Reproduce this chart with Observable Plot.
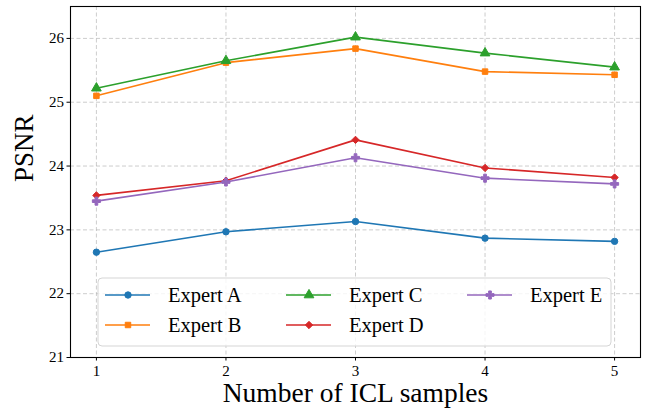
<!DOCTYPE html>
<html><head><meta charset="utf-8">
<script src="https://cdn.jsdelivr.net/npm/d3@7"></script>
<script src="https://cdn.jsdelivr.net/npm/@observablehq/plot@0.6"></script>
<style>body{margin:0;background:#fff}#chart{width:646px;height:418px}</style>
</head><body><div id="chart"></div>
<script>
const samples = [1, 2, 3, 4, 5];
const seriesNames = ["Expert A", "Expert B", "Expert C", "Expert D", "Expert E"];
const expertA = [22.65, 22.97, 23.13, 22.87, 22.82];
const expertB = [25.10, 25.62, 25.84, 25.48, 25.43];
const expertC = [25.22, 25.65, 26.02, 25.77, 25.55];
const expertD = [23.54, 23.77, 24.41, 23.97, 23.82];
const expertE = [23.45, 23.75, 24.13, 23.81, 23.72];
const yTicks = [21, 22, 23, 24, 25, 26];
const xTicks = [1, 2, 3, 4, 5];
const colors = ["#1f77b4", "#ff7f0e", "#2ca02c", "#d62728", "#9467bd"];

const plusFilled = {
  draw(ctx, size) {
    const w = Math.sqrt(size / 5), h = w / 2, L = 1.5 * w;
    ctx.moveTo(-h, -L); ctx.lineTo(h, -L); ctx.lineTo(h, -h); ctx.lineTo(L, -h);
    ctx.lineTo(L, h); ctx.lineTo(h, h); ctx.lineTo(h, L); ctx.lineTo(-h, L);
    ctx.lineTo(-h, h); ctx.lineTo(-L, h); ctx.lineTo(-L, -h); ctx.lineTo(-h, -h);
    ctx.closePath();
  }
};
const symbolList = ["circle", "square", "triangle", "diamond2", plusFilled];
const symbolR = [3.2, 3.1, 3.6, 3.3, 3.4];

const allSeries = [expertA, expertB, expertC, expertD, expertE];
const data = [];
allSeries.forEach((vals, i) => vals.forEach((v, j) => data.push({x: samples[j], y: v, s: seriesNames[i], i})));

const font = "'Liberation Serif', 'Times New Roman', serif";
const marks = [
  Plot.gridX(xTicks, {stroke: "#b0b0b0", strokeOpacity: 0.7, strokeDasharray: "4,2.5", strokeWidth: 0.9}),
  Plot.gridY(yTicks, {stroke: "#b0b0b0", strokeOpacity: 0.7, strokeDasharray: "4,2.5", strokeWidth: 0.9}),
  Plot.line(data, {x: "x", y: "y", z: "s", stroke: d => colors[d.i], strokeWidth: 1.6}),
];
seriesNames.forEach((name, i) => {
  marks.push(Plot.dot(data.filter(d => d.i === i), {x: "x", y: "y", symbol: () => symbolList[i], r: symbolR[i], fill: colors[i], stroke: colors[i], strokeWidth: 1}));
});
marks.push(
  Plot.frame({stroke: "black", strokeWidth: 1.1}),
  Plot.axisX(xTicks, {tickSize: 3.5, tickPadding: 4, stroke: "black", fontSize: 15, label: null, tickFormat: d3.format("d")}),
  Plot.axisY(yTicks, {tickSize: 3.5, tickPadding: 3, stroke: "black", fontSize: 15, label: null, tickFormat: d3.format("d")}),
  Plot.text(["Number of ICL samples"], {frameAnchor: "bottom", dy: 36, lineAnchor: "middle", fontSize: 27.5, fill: "black"}),
  Plot.text(["PSNR"], {frameAnchor: "left", dx: -46, rotate: -90, lineAnchor: "middle", fontSize: 27, fill: "black"})
);

const chart = Plot.plot({
  width: 646, height: 418,
  marginLeft: 70, marginRight: 6, marginTop: 6, marginBottom: 61,
  x: {domain: [0.8, 5.2]},
  y: {domain: [21, 26.5]},
  symbol: {type: "identity"},
  style: {fontFamily: font, background: "white", color: "black"},
  marks
});
document.getElementById("chart").appendChild(chart);

// legend
const svg = d3.select(chart);
const lg = svg.append("g").attr("font-family", font);
lg.append("rect").attr("x", 98).attr("y", 278).attr("width", 513).attr("height", 68)
  .attr("rx", 4).attr("fill", "white").attr("fill-opacity", 0.8).attr("stroke", "#d5d5d5").attr("stroke-width", 1);
const colX = [105, 286, 467];
const rowY = [295, 325];
const symMap = {circle: d3.symbolCircle, square: d3.symbolSquare, triangle: d3.symbolTriangle, diamond2: d3.symbolDiamond2};
seriesNames.forEach((name, i) => {
  const c = Math.floor(i / 2), r = i % 2;
  const x0 = colX[c], y0 = rowY[r];
  const g = lg.append("g");
  g.append("line").attr("x1", x0).attr("x2", x0 + 45).attr("y1", y0).attr("y2", y0).attr("stroke", colors[i]).attr("stroke-width", 1.6);
  const sym = typeof symbolList[i] === "string" ? symMap[symbolList[i]] : symbolList[i];
  g.append("path").attr("d", d3.symbol(sym, Math.PI * symbolR[i] * symbolR[i])()).attr("transform", `translate(${x0 + 23},${y0})`)
    .attr("fill", colors[i]).attr("stroke", colors[i]).attr("stroke-width", 1);
  g.append("text").attr("x", x0 + 63).attr("y", y0).attr("dy", "0.35em").attr("text-anchor", "start")
    .style("font-size", "20.5px").attr("fill", "black").text(name);
});
</script></body></html>
